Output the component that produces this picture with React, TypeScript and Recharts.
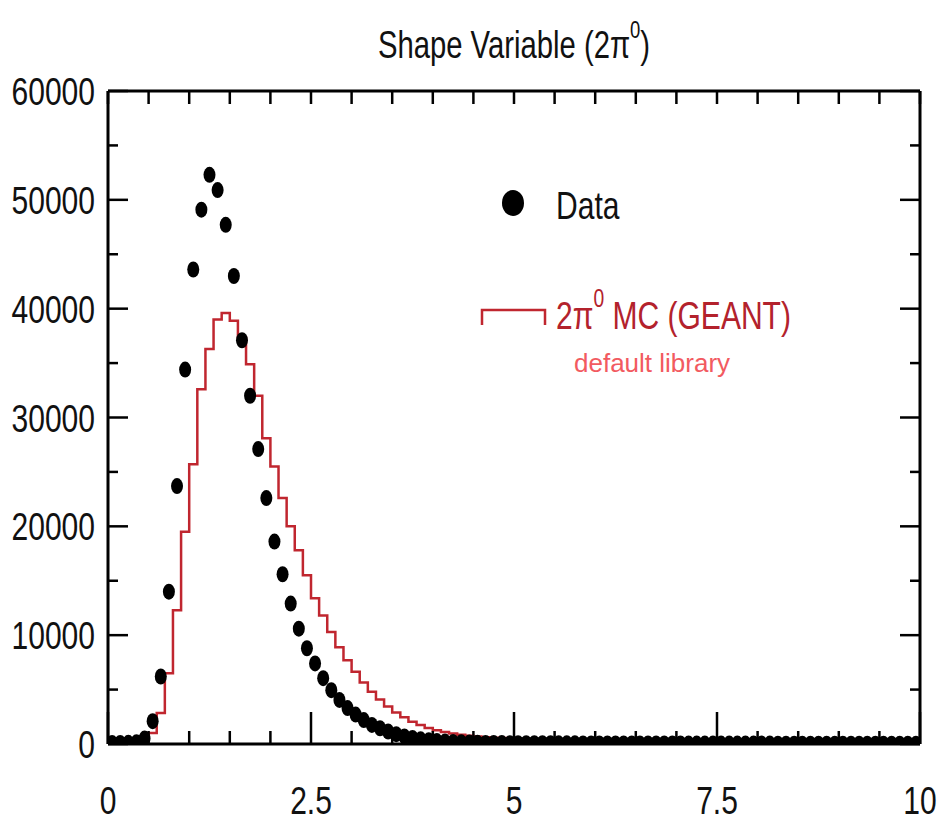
import React from 'react'
import { ComposedChart, Line, Scatter, XAxis, YAxis, ReferenceLine, Legend } from 'recharts'

// 100 bins of width 0.1 from 0 to 10
const BIN_WIDTH = 0.1

// data counts per bin (black points)
const dataCounts = [
  100, 90, 110, 150, 500, 2100, 6200, 14000, 23700, 34400,
  43600, 49100, 52300, 50900, 47700, 43000, 37100, 32000, 27100, 22600,
  18600, 15600, 12900, 10600, 8800, 7400, 6050, 4950, 4050, 3300,
  2700, 2200, 1750, 1450, 1150, 900, 700, 550, 430, 340,
  270, 220, 180, 150, 130, 110, 100, 90, 85, 80,
  75, 72, 70, 67, 66, 63, 62, 60, 57, 56,
  55, 53, 52, 51, 50, 48, 48, 47, 45, 45,
  44, 42, 42, 41, 40, 39, 39, 38, 37, 36,
  36, 35, 34, 34, 33, 32, 32, 31, 31, 30,
  30, 29, 29, 28, 28, 27, 27, 26, 26, 25,
]

// 2pi0 MC (GEANT) histogram contents per bin (red steps)
const mcCounts = [
  0, 0, 0, 80, 350, 1000, 2850, 6500, 12300, 19500,
  25700, 32600, 36300, 39000, 39600, 38900, 37300, 34900, 32000, 28100,
  25500, 22600, 20000, 17800, 15500, 13400, 11800, 10300, 8900, 7700,
  6650, 5650, 4800, 4100, 3450, 2900, 2450, 2050, 1750, 1480,
  1270, 1100, 960, 850, 760, 690, 630, 580, 540, 500,
  470, 450, 430, 410, 395, 380, 365, 350, 340, 330,
  320, 310, 300, 292, 285, 278, 270, 263, 257, 250,
  245, 240, 235, 230, 225, 220, 216, 212, 208, 204,
  200, 197, 194, 190, 187, 184, 181, 178, 175, 172,
  170, 168, 165, 163, 160, 158, 156, 154, 152, 150,
]

const xTicks = [0, 0.5, 1, 1.5, 2, 2.5, 3, 3.5, 4, 4.5, 5, 5.5, 6, 6.5, 7, 7.5, 8, 8.5, 9, 9.5, 10]
const yTicks = [0, 5000, 10000, 15000, 20000, 25000, 30000, 35000, 40000, 45000, 50000, 55000, 60000]

const dataRows = dataCounts.map((c, i) => ({ x: i * BIN_WIDTH + BIN_WIDTH / 2, counts: c }))
const mcRows = [
  ...mcCounts.map((c, i) => ({ x: i * BIN_WIDTH, mc: c })),
  { x: 10, mc: mcCounts[mcCounts.length - 1] },
]

const W = 940
const H = 821
const PLOT_W = 812
const PLOT_H = 653
const FONT = '"Liberation Sans", Arial, sans-serif'
const RED = '#c0262f'
const SQUEEZE = 0.77

const XTick = (props: any) => {
  const { x, y, payload } = props
  const v = payload.value
  const major = v % 2.5 === 0
  return (
    <g>
      <line x1={x} x2={x} y1={y} y2={y - (major ? 32 : 13)} stroke="#000" strokeWidth={2.5} />
      <line x1={x} x2={x} y1={y - PLOT_H} y2={y - PLOT_H + 13} stroke="#000" strokeWidth={2.5} />
      {major && (
        <text
          transform={`translate(${x},${y + 70}) scale(${SQUEEZE},1)`}
          textAnchor="middle"
          fontFamily={FONT}
          fontSize={39}
          fill="#111"
        >
          {v}
        </text>
      )}
    </g>
  )
}

const YTick = (props: any) => {
  const { x, y, payload } = props
  const v = payload.value
  const major = v % 10000 === 0
  const len = major ? 20 : 10
  return (
    <g>
      <line x1={x} x2={x + len} y1={y} y2={y} stroke="#000" strokeWidth={2.5} />
      <line x1={x + PLOT_W} x2={x + PLOT_W - len} y1={y} y2={y} stroke="#000" strokeWidth={2.5} />
      {major && (
        <text
          transform={`translate(${x - 13},${y + 14}) scale(${SQUEEZE},1)`}
          textAnchor="end"
          fontFamily={FONT}
          fontSize={39}
          fill="#111"
        >
          {v}
        </text>
      )}
    </g>
  )
}

const DataDot = (props: any) => {
  const { cx, cy } = props
  return <ellipse cx={cx} cy={cy} rx={6} ry={8} fill="#000" />
}

const renderLegend = () => (
  <svg width={400} height={220} style={{ overflow: 'visible' }}>
    <ellipse cx={53} cy={33} rx={11} ry={13} fill="#000" />
    <text transform={`translate(96,49) scale(${SQUEEZE},1)`} fontFamily={FONT} fontSize={39} fill="#111">
      Data
    </text>
    <path d="M 22 155 V 140 H 85 V 155" fill="none" stroke={RED} strokeWidth={2.5} />
    <text transform={`translate(96,159) scale(${SQUEEZE},1)`} fontFamily={FONT} fontSize={39} fill="#b3222c">
      <tspan>2π</tspan>
      <tspan dy={-22} fontSize={25}>0</tspan>
      <tspan dy={22}> MC (GEANT)</tspan>
    </text>
    <text x={114} y={202} fontFamily={FONT} fontSize={26} fill="#f25a60">
      default library
    </text>
  </svg>
)

export default function App() {
  return (
    <div style={{ position: 'absolute', left: 0, top: 0, width: W, height: H, background: '#fff' }}>
      <ComposedChart width={W} height={H} margin={{ top: 91, right: 20, left: 0, bottom: 0 }}>
        <text
          transform={`translate(514,58) scale(${SQUEEZE},1)`}
          textAnchor="middle"
          fontFamily={FONT}
          fontSize={38}
          fill="#111"
        >
          <tspan>Shape Variable (2π</tspan>
          <tspan dy={-20} fontSize={24}>0</tspan>
          <tspan dy={20}>)</tspan>
        </text>
        <XAxis
          type="number"
          dataKey="x"
          domain={[0, 10]}
          allowDataOverflow
          ticks={xTicks}
          interval={0}
          height={77}
          tickSize={0}
          tickMargin={0}
          tickLine={false}
          axisLine={{ stroke: '#000', strokeWidth: 3 }}
          tick={(p: any) => <XTick {...p} />}
        />
        <YAxis
          type="number"
          domain={[0, 60000]}
          allowDataOverflow
          ticks={yTicks}
          interval={0}
          width={108}
          tickSize={0}
          tickMargin={0}
          tickLine={false}
          axisLine={{ stroke: '#000', strokeWidth: 3 }}
          tick={(p: any) => <YTick {...p} />}
        />
        <ReferenceLine y={60000} stroke="#000" strokeWidth={3} />
        <ReferenceLine x={10} stroke="#000" strokeWidth={3} />
        <Line
          data={mcRows}
          dataKey="mc"
          type="stepAfter"
          stroke={RED}
          strokeWidth={2.5}
          dot={false}
          activeDot={false}
          isAnimationActive={false}
        />
        <Scatter data={dataRows} dataKey="counts" fill="#000" shape={<DataDot />} isAnimationActive={false} />
        <Legend
          layout="vertical"
          verticalAlign="middle"
          align="center"
          content={renderLegend}
          wrapperStyle={{ position: 'absolute', left: 460, top: 170, width: 400, height: 220 }}
        />
      </ComposedChart>
    </div>
  )
}
